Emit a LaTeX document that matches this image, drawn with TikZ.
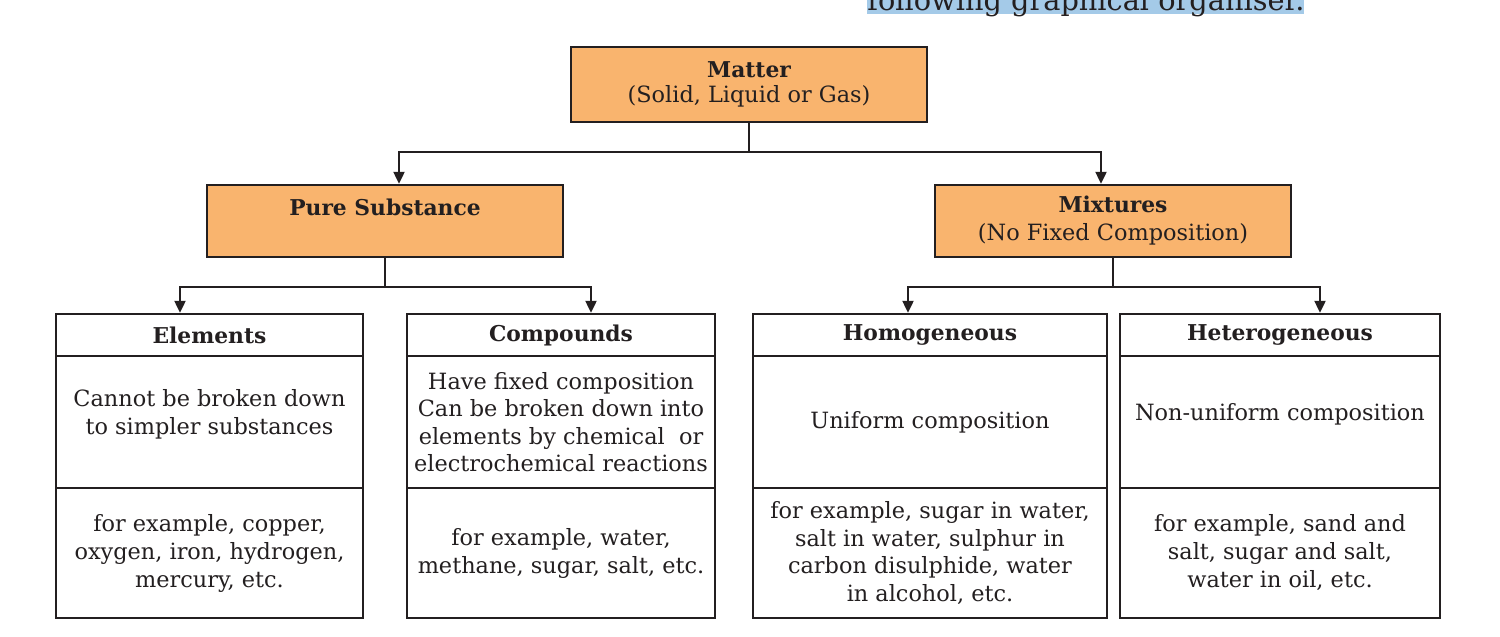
\documentclass[tikz,border=0pt]{standalone}
\usepackage{fontspec}
\setmainfont{DejaVu Serif}
\usetikzlibrary{arrows.meta}
\definecolor{boxorange}{RGB}{249,180,110}
\definecolor{hlblue}{RGB}{164,202,232}
\definecolor{ink}{RGB}{35,31,32}
\tikzset{
  cell/.style={draw=ink, line width=1.2pt, inner sep=0pt, align=center, text=ink,
    font=\fontsize{11.2}{14}\selectfont},
  topbox/.style={cell, fill=boxorange, minimum width=178pt, minimum height=36pt},
  headcell/.style={cell, font=\fontsize{10.9}{13}\selectfont\bfseries, minimum height=21pt},
  bodycell/.style={cell, minimum height=66pt},
  excell/.style={cell, minimum height=65pt},
  plaintext/.style={inner sep=0pt, align=center, text=ink, font=\fontsize{11.2}{14}\selectfont},
  conn/.style={draw=ink, line width=1.1pt},
  arr/.style={conn, -{Triangle[width=5.5pt,length=6pt]}},
}
\begin{document}
\begin{tikzpicture}[x=0.5pt,y=-0.5pt]
\useasboundingbox (0,0) rectangle (1500,637);
\clip (0,0) rectangle (1500,637);

% partial heading text at top
\node[anchor=base west, fill=hlblue, inner xsep=0pt, inner ysep=0pt, text depth=1.8pt, text=ink,
  font=\fontsize{14.4}{16}\selectfont] (intro) at (867,10.5) {following graphical organiser.};

% top level
\node[topbox, minimum height=37.5pt] (matter) at (749,84.5)
  {{\fontsize{10.9}{13}\selectfont\bfseries Matter}\\[-1.5pt](Solid, Liquid or Gas)};
\node[topbox] (pure) at (385,221) {{\fontsize{10.9}{13}\selectfont\bfseries Pure Substance}\\\mbox{}};
\node[topbox] (mix) at (1113,221) {{\fontsize{10.9}{13}\selectfont\bfseries Mixtures}\\(No Fixed Composition)};

% Elements column
\node[headcell, minimum width=153.5pt] (elemH) at (209.5,335) {Elements};
\node[bodycell, minimum width=153.5pt] (elemB) at (209.5,422) {};
\node[plaintext] (elemBt) at (209.5,414) {Cannot be broken down\\to simpler substances};
\node[excell, minimum width=153.5pt] (elemE) at (209.5,553)
  {for example, copper,\\oxygen, iron, hydrogen,\\mercury, etc.};

% Compounds column
\node[headcell, minimum width=154pt] (compH) at (561,335) {Compounds};
\node[bodycell, minimum width=154pt, font=\fontsize{11.2}{13.7}\selectfont] (compB) at (561,422)
  {Have fixed composition\\Can be broken down into\\elements by chemical~ or\\electrochemical reactions};
\node[excell, minimum width=154pt] (compE) at (561,553)
  {for example, water,\\methane, sugar, salt, etc.};

% Homogeneous column
\node[headcell, minimum width=177pt] (homH) at (930,335) {Homogeneous};
\node[bodycell, minimum width=177pt] (homB) at (930,422) {Uniform composition};
\node[excell, minimum width=177pt, font=\fontsize{11.2}{13.7}\selectfont] (homE) at (930,553)
  {for example, sugar in water,\\salt in water, sulphur in\\carbon disulphide, water\\in alcohol, etc.};

% Heterogeneous column
\node[headcell, minimum width=160pt] (hetH) at (1280,335) {Heterogeneous};
\node[bodycell, minimum width=160pt] (hetB) at (1280,422) {};
\node[plaintext] (hetBt) at (1280,414) {Non-uniform composition};
\node[excell, minimum width=160pt] (hetE) at (1280,553)
  {for example, sand and\\salt, sugar and salt,\\water in oil, etc.};

% connectors
\draw[arr] (matter.south) -- ++(0,29) -| ([xshift=7pt]pure.north);
\draw[arr] (matter.south) -- ++(0,29) -| ([xshift=-6pt]mix.north);
\draw[arr] (pure.south) -- ++(0,29) -| ([xshift=-14.75pt]elemH.north);
\draw[arr] (pure.south) -- ++(0,29) -| ([xshift=15pt]compH.north);
\draw[arr] (mix.south) -- ++(0,29) -| ([xshift=-11pt]homH.north);
\draw[arr] (mix.south) -- ++(0,29) -| ([xshift=20pt]hetH.north);
\end{tikzpicture}
\end{document}
